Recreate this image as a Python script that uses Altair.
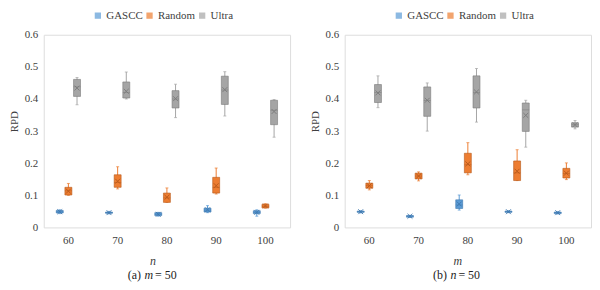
import altair as alt
import pandas as pd

CATS = ["60", "70", "80", "90", "100"]
SERIES = ["GASCC", "Random", "Ultra"]
FILLS = ["#5B9BD5", "#ED7D31", "#A5A5A5"]
DARKS = ["#3F78AE", "#B5581A", "#7A7A7A"]

# ---- panel (a): m = 50, x = n ----
A_GASCC_LO = [0.043, 0.042, 0.035, 0.046, 0.035]
A_GASCC_Q1 = [0.045, 0.044, 0.037, 0.048, 0.043]
A_GASCC_MED = [0.049, 0.046, 0.041, 0.054, 0.047]
A_GASCC_Q3 = [0.053, 0.048, 0.046, 0.060, 0.052]
A_GASCC_HI = [0.055, 0.050, 0.047, 0.068, 0.055]
A_GASCC_MEAN = [0.049, 0.046, 0.041, 0.055, 0.047]

A_RANDOM_LO = [0.100, 0.120, 0.078, 0.104, 0.060]
A_RANDOM_Q1 = [0.101, 0.125, 0.078, 0.107, 0.061]
A_RANDOM_MED = [0.114, 0.140, 0.092, 0.125, 0.066]
A_RANDOM_Q3 = [0.125, 0.164, 0.107, 0.156, 0.072]
A_RANDOM_HI = [0.137, 0.189, 0.123, 0.185, 0.074]
A_RANDOM_MEAN = [0.113, 0.144, 0.094, 0.130, 0.067]

A_ULTRA_LO = [0.382, 0.400, 0.342, 0.347, 0.281]
A_ULTRA_Q1 = [0.408, 0.403, 0.372, 0.383, 0.320]
A_ULTRA_MED = [0.438, 0.420, 0.400, 0.428, 0.365]
A_ULTRA_Q3 = [0.461, 0.453, 0.426, 0.471, 0.396]
A_ULTRA_HI = [0.467, 0.484, 0.446, 0.485, 0.398]
A_ULTRA_MEAN = [0.434, 0.424, 0.401, 0.429, 0.361]

# ---- panel (b): n = 50, x = m ----
B_GASCC_LO = [0.045, 0.031, 0.054, 0.046, 0.042]
B_GASCC_Q1 = [0.047, 0.032, 0.059, 0.047, 0.043]
B_GASCC_MED = [0.049, 0.035, 0.070, 0.049, 0.046]
B_GASCC_Q3 = [0.051, 0.037, 0.086, 0.051, 0.048]
B_GASCC_HI = [0.052, 0.038, 0.101, 0.052, 0.049]
B_GASCC_MEAN = [0.049, 0.035, 0.073, 0.049, 0.046]

B_RANDOM_LO = [0.117, 0.145, 0.164, 0.146, 0.149]
B_RANDOM_Q1 = [0.122, 0.151, 0.170, 0.146, 0.154]
B_RANDOM_MED = [0.130, 0.160, 0.195, 0.170, 0.168]
B_RANDOM_Q3 = [0.138, 0.169, 0.231, 0.207, 0.184]
B_RANDOM_HI = [0.146, 0.173, 0.264, 0.242, 0.201]
B_RANDOM_MEAN = [0.130, 0.160, 0.198, 0.175, 0.169]

B_ULTRA_LO = [0.373, 0.300, 0.328, 0.250, 0.307]
B_ULTRA_Q1 = [0.389, 0.346, 0.372, 0.299, 0.3125]
B_ULTRA_MED = [0.420, 0.395, 0.420, 0.366, 0.320]
B_ULTRA_Q3 = [0.445, 0.4375, 0.472, 0.3875, 0.326]
B_ULTRA_HI = [0.472, 0.450, 0.495, 0.396, 0.333]
B_ULTRA_MEAN = [0.419, 0.396, 0.422, 0.349, 0.320]

Y_TICKS = [0, 0.1, 0.2, 0.3, 0.4, 0.5, 0.6]

FONT = "Liberation Serif"
TXT = "#404040"
W, H = 248, 194


def make_df(series_arrays):
    rows = []
    for k, (s, (lo, q1, md, q3, hi, mn)) in enumerate(series_arrays.items()):
        for i, c in enumerate(CATS):
            rows.append(dict(cat=c, series=s, lo=lo[i], q1=q1[i], med=md[i],
                             q3=q3[i], hi=hi[i], mean=mn[i],
                             fillc=FILLS[k], dark=DARKS[k]))
    return pd.DataFrame(rows)


df_a = make_df({
    "GASCC": (A_GASCC_LO, A_GASCC_Q1, A_GASCC_MED, A_GASCC_Q3, A_GASCC_HI, A_GASCC_MEAN),
    "Random": (A_RANDOM_LO, A_RANDOM_Q1, A_RANDOM_MED, A_RANDOM_Q3, A_RANDOM_HI, A_RANDOM_MEAN),
    "Ultra": (A_ULTRA_LO, A_ULTRA_Q1, A_ULTRA_MED, A_ULTRA_Q3, A_ULTRA_HI, A_ULTRA_MEAN),
})
df_b = make_df({
    "GASCC": (B_GASCC_LO, B_GASCC_Q1, B_GASCC_MED, B_GASCC_Q3, B_GASCC_HI, B_GASCC_MEAN),
    "Random": (B_RANDOM_LO, B_RANDOM_Q1, B_RANDOM_MED, B_RANDOM_Q3, B_RANDOM_HI, B_RANDOM_MEAN),
    "Ultra": (B_ULTRA_LO, B_ULTRA_Q1, B_ULTRA_MED, B_ULTRA_Q3, B_ULTRA_HI, B_ULTRA_MEAN),
})


def panel(df, xname, cap_letter, cap_var, cap_pos):
    x = alt.X("cat:N", sort=CATS, title=None,
              scale=alt.Scale(paddingInner=0.5, paddingOuter=0.25),
              axis=alt.Axis(labelAngle=0, ticks=False, domain=False, grid=False,
                            labelPadding=7, labelFont=FONT, labelFontSize=11,
                            labelColor=TXT))
    xo = alt.XOffset("series:N", sort=SERIES,
                     scale=alt.Scale(domain=SERIES, paddingInner=0.15, paddingOuter=0))
    yscale = alt.Scale(domain=[0, 0.6], nice=False)
    yaxis = alt.Axis(values=Y_TICKS, ticks=False, domain=False, grid=False,
                     labelOverlap=False,
                     labelExpr="datum.value == 0 ? '0' : format(datum.value, '.1f')",
                     labelFont=FONT, labelFontSize=11, labelColor=TXT, labelPadding=6,
                     title="RPD", titleFont=FONT, titleFontSize=11, titleFontWeight="normal",
                     titleColor=TXT, titleX=-29, titleY=87, titleAngle=270,
                     titleAlign="center", titleBaseline="middle")
    col_fill = alt.Color("series:N", sort=SERIES,
                         scale=alt.Scale(domain=SERIES, range=FILLS),
                         legend=alt.Legend(title=None, orient="none", direction="horizontal",
                                           legendX=49, legendY=-25, symbolType="square",
                                           symbolSize=40, symbolStrokeWidth=0,
                                           labelFont=FONT, labelFontSize=11, labelColor=TXT,
                                           labelOffset=3, columnPadding=1, padding=0))
    col_plain = alt.Color("fillc:N", scale=None)
    col_dark = alt.Color("dark:N", scale=None)

    def Y(f):
        return alt.Y(f, scale=yscale, axis=yaxis, title="RPD")

    base = alt.Chart(df).encode(x=x, xOffset=xo)

    whisk = base.mark_rule(strokeWidth=1).encode(y=Y("lo:Q"), y2="hi:Q", color=col_plain)
    cap_hi = base.mark_tick(size=3, thickness=1).encode(y=Y("hi:Q"), color=col_plain)
    cap_lo = base.mark_tick(size=3, thickness=1).encode(y=Y("lo:Q"), color=col_plain)
    box = base.mark_bar(size=7, strokeWidth=0.6).encode(
        y=Y("q1:Q"), y2="q3:Q", color=col_fill, stroke=col_dark)
    med = base.mark_tick(size=7, thickness=0.8, opacity=0.6).encode(
        y=Y("med:Q"), color=col_dark)
    mean = base.mark_point(shape="M-1,-1L1,1M-1,1L1,-1", size=24, filled=False,
                           strokeWidth=1, opacity=0.9).encode(
        y=Y("mean:Q"), color=col_dark)

    tx, ta, tb, tc = cap_pos
    ann = alt.Chart(pd.DataFrame({"k": [0]}))
    xtitle = ann.mark_text(text=xname, font=FONT, fontSize=12, fontStyle="italic",
                           color=TXT, align="center", baseline="middle").encode(
        x=alt.value(tx), y=alt.value(228))
    c1 = ann.mark_text(text=cap_letter, font=FONT, fontSize=12, color="#222222",
                       align="right", baseline="middle").encode(x=alt.value(ta), y=alt.value(242))
    c2 = ann.mark_text(text=cap_var, font=FONT, fontSize=12, fontStyle="italic",
                       color="#222222", align="left", baseline="middle").encode(
        x=alt.value(tb), y=alt.value(242))
    c3 = ann.mark_text(text="= 50", font=FONT, fontSize=12, color="#222222",
                       align="left", baseline="middle").encode(x=alt.value(tc), y=alt.value(242))

    return alt.layer(whisk, cap_hi, cap_lo, box, med, mean, xtitle, c1, c2, c3).properties(
        width=W, height=H)


pa = panel(df_a, "n", "(a)", "m", (110, 98, 101.5, 112))
pb = panel(df_b, "m", "(b)", "n", (114, 103, 106.5, 114.5))

chart = alt.hconcat(pa, pb, spacing=18).resolve_scale(
    color="independent").resolve_legend(color="independent").configure_view(
    stroke="#8c8c8c", strokeWidth=1).configure(background="white", padding=0)

chart.save("out.html", embed_options={"renderer": "svg", "actions": False})
